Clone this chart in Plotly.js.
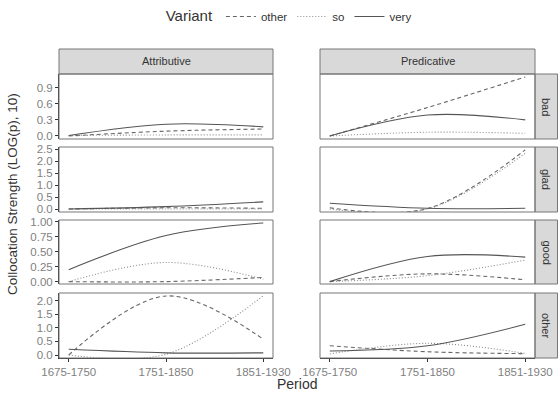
<!DOCTYPE html>
<html>
<head>
<meta charset="utf-8">
<script src="https://cdn.plot.ly/plotly-3.0.1.min.js"></script>
<style>html,body{margin:0;padding:0;background:#fff;}#chart{width:558px;height:395px;}</style>
</head>
<body>
<div id="chart"></div>
<script>
// ---- data ----
const periods = ["1675-1750", "1751-1850", "1851-1930"];
const functions = ["Attributive", "Predicative"];
const adjectives = ["bad", "glad", "good", "other"];
const variants = ["other", "so", "very"];

// values per [adjective][function][variant] at the three periods
const attr_bad_other  = [0.00, 0.09, 0.13];
const attr_bad_so     = [0.01, 0.02, 0.02];
const attr_bad_very   = [0.01, 0.22, 0.17];
const pred_bad_other  = [0.00, 0.53, 1.10];
const pred_bad_so     = [0.00, 0.07, 0.05];
const pred_bad_very   = [0.00, 0.39, 0.30];

const attr_glad_other = [0.00, 0.05, 0.03];
const attr_glad_so    = [0.00, 0.00, 0.00];
const attr_glad_very  = [0.00, 0.10, 0.30];
const pred_glad_other = [0.05, 0.02, 2.47];
const pred_glad_so    = [0.00, 0.00, 2.33];
const pred_glad_very  = [0.24, 0.03, 0.03];

const attr_good_other = [0.00, 0.00, 0.07];
const attr_good_so    = [0.00, 0.32, 0.04];
const attr_good_very  = [0.20, 0.77, 0.98];
const pred_good_other = [0.00, 0.13, 0.03];
const pred_good_so    = [0.00, 0.10, 0.36];
const pred_good_very  = [0.00, 0.42, 0.41];

const attr_other_other = [0.00, 2.17, 0.58];
const attr_other_so    = [0.00, 0.03, 2.18];
const attr_other_very  = [0.21, 0.08, 0.08];
const pred_other_other = [0.34, 0.12, 0.05];
const pred_other_so    = [0.04, 0.43, 0.06];
const pred_other_very  = [0.15, 0.34, 1.13];

const yTicks = {
  bad:   [0.0, 0.3, 0.6, 0.9],
  glad:  [0.0, 0.5, 1.0, 1.5, 2.0, 2.5],
  good:  [0.00, 0.25, 0.50, 0.75, 1.00],
  other: [0.0, 0.5, 1.0, 1.5, 2.0]
};

const series = {
  Attributive: {
    bad:   {other: attr_bad_other, so: attr_bad_so, very: attr_bad_very},
    glad:  {other: attr_glad_other, so: attr_glad_so, very: attr_glad_very},
    good:  {other: attr_good_other, so: attr_good_so, very: attr_good_very},
    other: {other: attr_other_other, so: attr_other_so, very: attr_other_very}
  },
  Predicative: {
    bad:   {other: pred_bad_other, so: pred_bad_so, very: pred_bad_very},
    glad:  {other: pred_glad_other, so: pred_glad_so, very: pred_glad_very},
    good:  {other: pred_good_other, so: pred_good_so, very: pred_good_very},
    other: {other: pred_other_other, so: pred_other_so, very: pred_other_very}
  }
};

// ---- layout geometry (pixels) ----
const W = 558, H = 395;
const colX = [[59, 273], [320, 535]];
const rowY = [[74, 139], [147, 212], [220, 284], [293, 358]];
const yRange = {bad: [-0.056, 1.155], glad: [-0.125, 2.59], good: [-0.04, 1.03], other: [-0.11, 2.28]};
const yFmt = {bad: 1, glad: 1, good: 2, other: 1};

const dashOf = {other: "4px,3px", so: "1px,2px", very: "solid"};
const colorOf = {other: "#666", so: "#8a8a8a", very: "#555"};

const px = x => x / W;
const py = y => 1 - y / H;

const traces = [];
const layout = {
  width: W, height: H,
  margin: {l: 0, r: 0, t: 0, b: 0},
  paper_bgcolor: "#fff", plot_bgcolor: "#fff",
  font: {family: "Liberation Sans, Arial, sans-serif", color: "#333"},
  showlegend: true,
  legend: {
    orientation: "h", x: 0.52, xanchor: "center", y: 0.995, yanchor: "top",
    title: {text: "Variant", font: {size: 15, color: "#333"}, side: "left"},
    font: {size: 11.5, color: "#333"},
    itemwidth: 30, tracegroupgap: 0, bgcolor: "rgba(0,0,0,0)"
  },
  shapes: [], annotations: []
};

function note(x, y, text, size, angle) {
  return {xref: "paper", yref: "paper", x: px(x), y: py(y), xanchor: "center", yanchor: "middle",
    text: text, showarrow: false, textangle: angle || 0, font: {size: size, color: "#333"}};
}

let idx = 0;
adjectives.forEach((adj, r) => {
  functions.forEach((fn, c) => {
    idx++;
    const xa = "xaxis" + (idx === 1 ? "" : idx), ya = "yaxis" + (idx === 1 ? "" : idx);
    const xr = "x" + (idx === 1 ? "" : idx), yr = "y" + (idx === 1 ? "" : idx);
    const bottom = r === adjectives.length - 1, left = c === 0;
    layout[xa] = {
      domain: [px(colX[c][0]), px(colX[c][1])],
      anchor: yr, type: "category", categoryorder: "array", categoryarray: periods,
      range: [-0.1, 2.1], showgrid: false, zeroline: false,
      showline: bottom, linecolor: "#333", linewidth: 1,
      ticks: bottom ? "outside" : "", ticklen: 3, tickcolor: "#333",
      showticklabels: bottom, tickfont: {size: 11.5, color: "#7f7f7f"}
    };
    layout[ya] = {
      domain: [py(rowY[r][1]), py(rowY[r][0])],
      anchor: xr, range: yRange[adj], showgrid: false, zeroline: false,
      showline: left, linecolor: "#333", linewidth: 1,
      tickmode: "array", tickvals: yTicks[adj],
      ticktext: yTicks[adj].map(v => v.toFixed(yFmt[adj])),
      ticks: left ? "outside" : "", ticklen: 3, tickcolor: "#333",
      showticklabels: left, tickfont: {size: 11.5, color: "#7f7f7f"}
    };
    // panel border
    layout.shapes.push({type: "rect", xref: "paper", yref: "paper", layer: "above",
      x0: px(colX[c][0]), x1: px(colX[c][1]), y0: py(rowY[r][1]), y1: py(rowY[r][0]),
      line: {color: "#777", width: 1}, fillcolor: "rgba(0,0,0,0)"});
    variants.forEach(v => {
      traces.push({
        type: "scatter", mode: "lines", x: periods, y: series[fn][adj][v],
        xaxis: xr, yaxis: yr, name: v, legendgroup: v, showlegend: idx === 1,
        line: {color: colorOf[v], width: 1.1, dash: dashOf[v], shape: "spline", smoothing: 1},
        hoverinfo: "skip"
      });
    });
  });
  // right strip
  layout.shapes.push({type: "rect", xref: "paper", yref: "paper", layer: "below",
    x0: px(535), x1: px(557.5), y0: py(rowY[r][1]), y1: py(rowY[r][0]),
    line: {color: "#777", width: 1}, fillcolor: "#d9d9d9"});
  layout.annotations.push(note(546.5, (rowY[r][0] + rowY[r][1]) / 2, adj, 11, 90));
});

// top strips
functions.forEach((fn, c) => {
  layout.shapes.push({type: "rect", xref: "paper", yref: "paper", layer: "below",
    x0: px(colX[c][0]), x1: px(colX[c][1]), y0: py(74), y1: py(49),
    line: {color: "#777", width: 1}, fillcolor: "#d9d9d9"});
  layout.annotations.push(note((colX[c][0] + colX[c][1]) / 2, 61.5, fn, 11));
});

// axis titles
layout.annotations.push(note(297, 384, "Period", 14));
layout.annotations.push(note(13, 194, "Collocation Strength (LOG(p), 10)", 13.5, -90));

Plotly.newPlot("chart", traces, layout, {displayModeBar: false, staticPlot: true});
</script>
</body>
</html>
